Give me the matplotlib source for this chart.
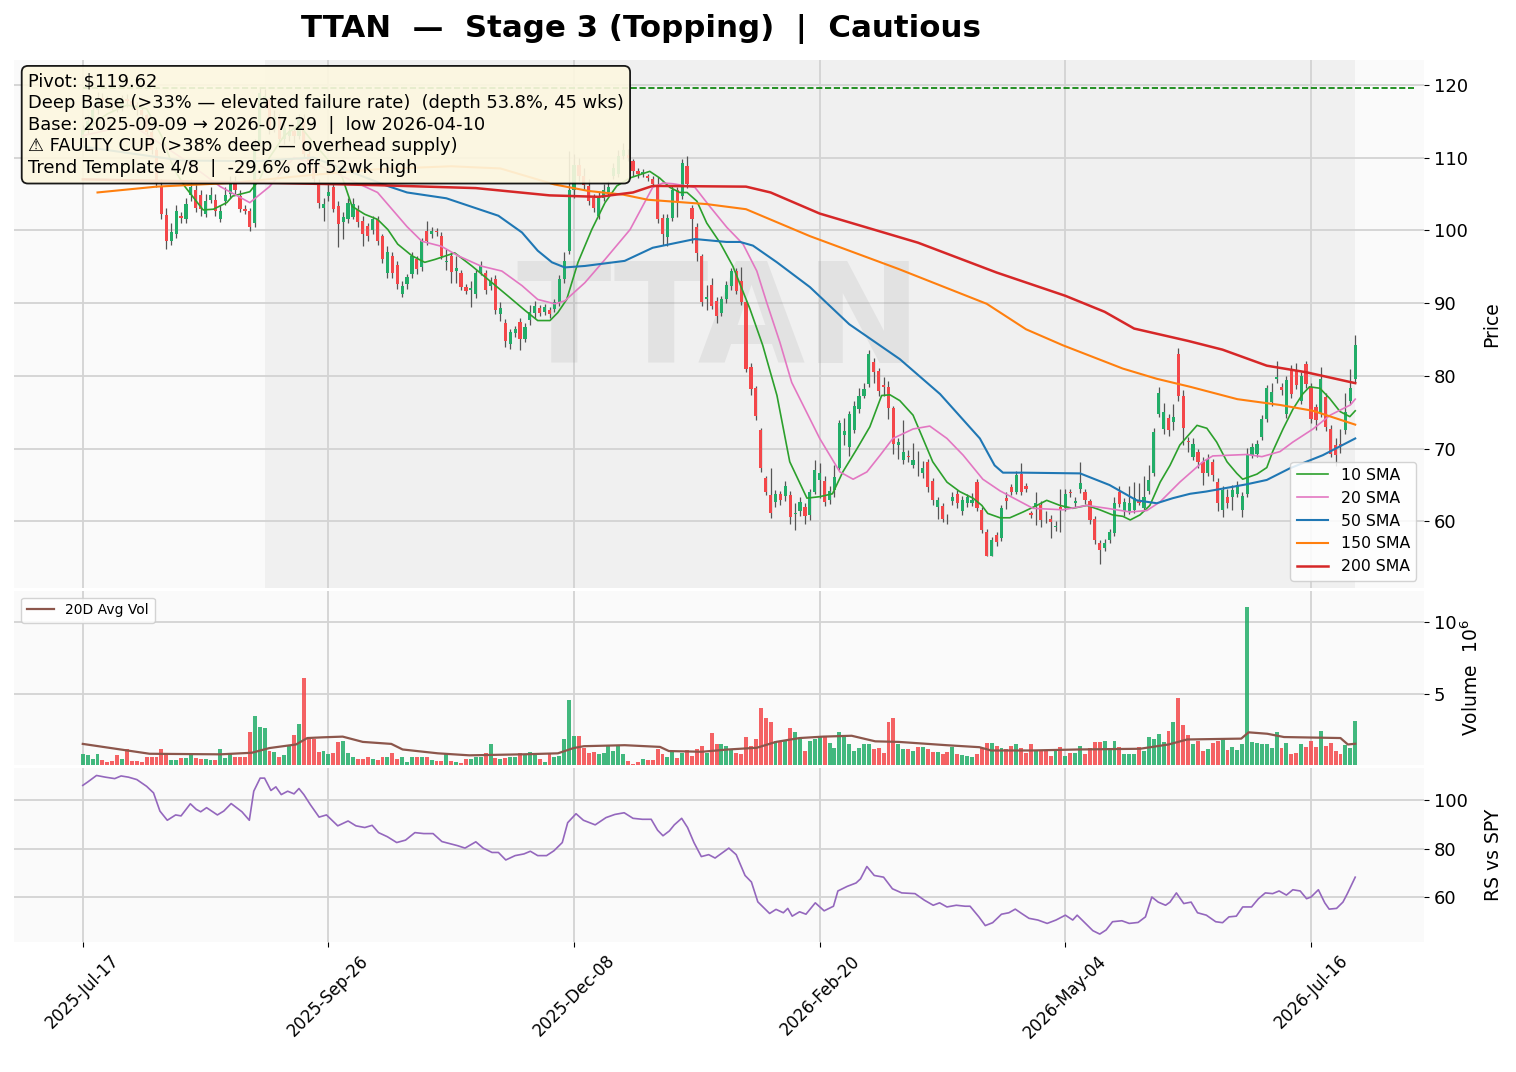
import matplotlib
matplotlib.use('Agg')
import matplotlib.pyplot as plt
import numpy as np

ticker = 'TTAN'
pivot = 119.62
base_start = 37
base_end = 259

# OHLC per bar
opens = [112.5,113.8,115.0,116.5,118.2,117.8,117.5,117.2,116.8,118.0,
         117.8,117.2,116.5,115.8,113.5,111.0,106.1,102.1,98.5,99.5,
         102.0,101.6,104.8,105.6,104.8,102.2,104.2,104.2,101.6,104.0,
         105.0,106.5,104.7,102.9,102.6,101.0,112.0,117.5,118.0,114.0,
         115.5,112.5,113.0,113.6,113.0,115.3,110.5,108.5,106.3,103.0,
         104.7,105.9,103.3,101.1,101.6,101.8,102.9,101.3,100.6,100.1,
         101.5,99.2,94.2,96.5,95.3,91.2,92.6,94.0,96.0,94.9,
         99.9,99.5,99.9,99.2,95.6,96.5,94.4,94.1,92.2,91.8,
         91.2,94.3,94.2,92.3,93.3,88.5,87.3,84.4,85.9,87.4,
         85.1,87.7,88.6,89.3,88.8,89.0,89.2,90.0,93.3,97.2,
         105.5,109.0,107.5,106.1,104.5,102.0,104.5,105.2,107.4,107.7,
         110.2,110.4,109.5,108.2,107.7,107.4,107.1,106.1,101.7,99.1,
         101.7,105.6,104.7,108.8,103.1,100.5,96.5,90.5,92.5,90.3,
         88.7,90.5,92.3,94.4,93.1,90.1,81.2,78.3,72.5,65.9,
         63.6,62.7,63.7,63.5,63.6,61.0,61.4,62.0,60.9,64.1,
         65.7,65.5,62.9,64.3,67.4,71.9,70.2,72.6,75.4,77.3,
         78.9,81.9,80.7,78.7,78.5,75.6,70.5,68.5,69.0,67.8,
         67.95,66.7,68.2,65.6,62.0,62.1,60.65,62.8,63.8,61.4,
         62.6,62.5,65.4,61.6,58.6,55.3,58.1,57.7,63.2,64.7,
         64.1,66.5,64.9,61.1,62.0,62.2,60.65,60.4,59.2,62.0,
         61.9,64.05,62.5,64.4,64.0,62.8,60.4,57.1,56.4,57.4,
         58.4,64.0,61.4,61.4,61.6,62.9,61.8,64.2,66.6,74.8,
         72.7,74.2,73.6,83.0,77.3,71.1,68.9,69.6,68.2,66.6,
         68.2,65.4,61.6,63.4,63.4,63.8,61.6,63.8,69.1,69.3,
         71.6,74.1,76.4,79.6,78.5,74.8,81.0,80.7,76.6,81.6,
         78.5,75.7,74.8,77.1,72.7,70.5,70.7,72.5,76.6,79.6]
highs = [114.5,115.8,117.2,119.0,118.8,118.4,118.0,117.9,118.6,118.7,
         118.2,117.6,117.0,116.0,114.0,111.5,107.0,103.0,101.0,103.5,
         102.5,104.5,107.0,106.5,105.5,105.0,106.0,105.0,103.5,106.0,
         107.5,107.5,105.5,103.5,103.0,112.5,119.62,119.4,118.3,116.5,
         116.0,114.8,114.5,114.2,116.0,116.0,111.2,109.3,107.0,104.5,
         106.5,106.5,104.0,102.5,104.5,104.5,103.5,102.0,101.0,102.0,
         102.0,99.5,97.8,97.0,95.8,93.0,94.0,97.0,96.5,99.0,
         101.3,100.5,100.3,99.8,97.5,97.0,96.5,94.5,92.6,93.0,
         94.6,95.8,94.6,93.6,93.8,90.2,87.8,86.5,86.8,88.0,
         87.2,89.8,90.3,89.8,89.9,89.5,90.6,93.8,97.0,110.9,
         110.5,110.0,108.5,107.0,105.0,105.2,106.3,106.8,109.3,111.0,
         112.0,111.2,109.8,108.6,108.4,107.8,107.5,107.3,102.3,102.2,
         106.2,106.0,109.8,110.2,103.5,101.0,96.8,92.5,93.5,90.8,
         91.0,93.0,94.8,94.8,94.9,90.4,81.7,78.6,72.8,66.2,
         67.4,64.3,64.2,65.6,64.2,62.5,63.3,62.6,64.5,68.5,
         68.0,66.3,64.8,67.7,73.9,74.2,75.2,76.6,78.4,79.0,
         83.5,82.4,81.1,79.9,79.3,75.9,71.4,74.0,69.8,70.8,
         69.7,68.3,68.6,66.0,63.4,62.5,61.0,64.0,64.3,63.5,
         63.8,63.9,65.8,62.0,59.0,57.8,58.5,62.3,64.0,65.2,
         66.9,68.0,65.3,61.5,64.0,62.8,61.4,60.9,60.0,64.4,
         64.4,64.4,63.3,68.1,64.4,63.1,60.8,57.5,57.6,59.0,
         63.4,64.8,63.2,64.8,65.4,65.3,66.2,67.7,72.8,78.5,
         76.3,74.8,76.2,83.8,78.0,71.6,71.4,70.0,68.8,69.2,
         68.6,66.0,64.8,64.5,65.0,65.6,64.0,70.1,70.8,71.2,
         74.6,78.8,79.0,82.1,79.0,80.0,81.5,81.8,80.6,82.0,
         79.0,76.1,81.2,77.6,73.2,71.4,72.7,77.6,81.0,85.6]
lows = [112.0,113.2,114.6,116.0,117.0,116.8,116.5,116.2,116.4,117.0,
        116.6,115.8,115.2,113.0,110.5,106.0,101.5,97.4,98.0,99.0,
        101.0,101.0,104.0,102.5,102.0,101.8,103.8,102.0,101.2,103.5,
        104.5,104.8,102.5,102.2,99.9,100.5,111.5,116.8,113.2,113.5,
        112.0,111.8,112.3,112.0,112.5,110.0,107.8,106.5,103.0,101.3,
        104.0,102.5,97.7,98.8,101.0,101.5,100.5,97.9,98.5,99.5,
        98.0,95.5,93.5,93.5,92.0,90.8,92.0,93.5,94.0,94.4,
        98.0,99.0,99.2,96.0,94.5,92.8,92.8,91.8,91.2,89.4,
        90.7,93.8,91.3,91.8,88.5,87.5,84.0,83.7,85.4,83.6,
        84.6,87.0,88.0,88.2,88.3,88.0,88.8,89.6,92.8,96.8,
        104.5,106.8,105.5,103.5,102.5,101.5,104.0,104.8,107.0,107.3,
        109.8,109.5,107.5,107.2,107.3,106.8,106.0,101.0,98.0,97.8,
        101.3,101.8,104.3,105.8,98.3,95.8,89.6,89.0,89.2,87.2,
        88.2,90.0,91.8,91.2,89.8,80.5,77.4,74.0,66.8,63.6,
        60.5,62.0,62.3,62.8,59.7,58.8,60.8,59.6,60.2,63.7,
        63.2,62.1,62.4,63.3,67.0,70.5,69.0,72.2,74.9,76.9,
        78.5,79.0,77.3,77.3,74.1,69.3,68.6,67.9,68.1,67.3,
        66.2,66.0,64.1,62.2,60.3,59.9,59.7,62.2,61.9,60.9,
        62.0,62.1,61.4,58.4,55.26,55.27,56.6,57.3,61.7,63.6,
        63.7,63.6,64.0,60.5,59.5,59.3,59.8,57.7,58.7,58.5,
        61.4,63.4,62.0,63.9,62.4,59.7,56.9,54.1,55.9,57.0,
        58.0,62.0,60.8,61.0,61.2,62.2,61.4,63.8,66.2,74.3,
        72.0,71.8,72.6,76.5,70.5,69.5,68.5,67.4,65.0,66.2,
        65.6,61.4,60.6,61.8,61.6,63.3,60.6,63.4,68.7,68.8,
        71.2,73.6,75.9,79.0,77.4,74.2,77.0,78.2,76.1,78.4,
        73.5,72.5,74.3,72.4,68.8,67.6,69.4,72.0,76.1,79.0]
closes = [113.8,115.0,116.5,118.2,117.8,117.5,117.2,116.8,118.0,117.8,
          117.2,116.5,115.8,113.5,111.0,106.5,102.2,98.5,99.7,102.6,
          101.7,103.6,106.0,103.1,102.9,104.0,104.9,102.6,102.6,104.9,
          106.5,105.5,102.9,102.7,100.4,111.5,118.8,118.5,114.0,115.5,
          112.5,114.0,113.6,112.9,115.3,110.5,108.5,107.0,103.8,103.6,
          105.2,102.9,100.8,101.8,103.8,103.6,101.1,99.5,99.2,101.5,
          98.5,96.0,97.0,94.2,92.6,92.4,93.6,96.5,94.7,98.5,
          98.5,99.9,99.7,96.5,95.8,94.3,94.8,92.2,91.7,92.05,
          94.2,95.1,91.8,93.1,89.0,89.3,84.8,86.0,86.4,85.1,
          86.7,88.8,89.6,88.7,89.4,88.5,90.1,93.3,95.8,105.6,
          109.0,107.5,106.2,104.0,103.1,104.7,105.6,105.9,108.6,110.2,
          111.0,110.0,108.1,107.7,108.0,107.2,106.4,101.5,99.5,101.7,
          105.6,104.0,109.3,106.3,101.5,96.9,90.1,90.8,89.6,88.2,
          90.5,92.5,94.4,91.7,90.1,81.0,78.2,74.5,67.3,64.1,
          61.1,63.7,62.9,64.8,60.6,61.2,62.7,60.8,64.1,67.0,
          66.6,62.7,64.2,66.1,73.5,72.4,74.7,75.8,77.3,78.2,
          83.0,80.6,77.9,78.5,75.6,70.7,70.9,69.6,68.8,68.5,
          67.85,67.3,64.7,62.9,62.9,60.3,60.55,63.4,62.5,62.9,
          63.3,63.0,61.9,58.8,55.3,57.4,57.2,61.9,62.8,64.1,
          66.4,64.0,64.5,60.9,62.6,60.2,60.55,59.9,59.4,61.7,
          63.8,63.95,62.8,65.3,62.9,60.2,57.4,56.1,57.1,58.5,
          62.5,62.4,62.7,62.6,63.2,62.6,63.3,65.7,72.3,77.7,
          75.0,72.5,74.3,77.3,72.8,70.9,70.7,68.2,66.6,68.6,
          66.4,62.5,64.3,62.5,64.3,65.0,63.5,69.3,70.2,70.7,
          74.1,78.3,77.8,79.8,78.0,79.4,77.5,78.7,80.0,78.9,
          74.1,73.9,79.6,73.0,69.3,69.1,70.4,75.0,78.3,84.2]
# volume, millions of shares
volume_m = [0.8,0.7,0.4,0.75,0.35,0.2,0.3,0.7,0.4,1.1,
            0.3,0.3,0.2,0.6,0.55,0.55,1.1,0.75,0.35,0.35,
            0.5,0.5,0.75,0.5,0.45,0.45,0.35,0.35,1.1,0.5,
            0.8,0.55,0.55,0.55,2.35,3.45,2.65,2.6,1.0,0.9,
            0.6,0.7,1.35,2.1,2.9,6.1,1.8,1.8,0.9,1.0,
            0.75,0.85,1.6,1.7,0.85,0.6,0.45,0.45,0.6,0.45,
            0.35,0.6,0.55,0.85,0.45,0.6,0.25,0.55,0.55,0.6,
            0.6,0.35,0.3,0.3,0.85,0.3,0.25,0.15,0.45,0.45,
            0.6,0.6,0.85,1.45,0.5,0.4,0.5,0.6,0.55,0.85,
            0.7,0.95,0.85,0.45,0.2,0.75,0.6,0.65,1.85,4.55,
            2.05,2.05,1.2,0.85,0.95,0.75,0.85,1.35,1.0,1.35,
            0.75,0.3,0.1,0.25,0.45,0.35,0.35,1.1,0.75,0.6,
            1.0,0.5,0.85,1.05,0.65,1.15,1.33,0.83,2.25,1.45,
            1.5,1.33,1.03,0.83,0.76,2.0,1.33,1.83,3.97,3.28,
            3.05,1.67,1.63,1.67,2.6,2.3,1.8,1.0,1.72,1.8,
            2.0,2.0,1.56,1.22,2.3,2.1,1.5,1.0,1.22,1.5,
            1.5,1.15,1.22,0.87,3.05,3.28,1.5,1.15,1.15,1.0,
            1.26,1.26,1.1,0.94,0.94,0.76,0.94,1.26,0.76,0.71,
            0.64,0.57,0.8,1.22,1.56,1.56,1.33,1.22,1.1,1.33,
            1.45,1.22,0.83,1.5,1.0,1.0,1.03,0.64,1.0,1.26,
            0.64,0.87,0.87,1.33,0.8,1.17,1.63,1.63,1.67,1.22,
            1.67,1.26,0.8,0.8,0.76,1.26,1.0,2.0,1.86,2.18,
            1.63,2.36,3.05,4.7,2.82,2.13,1.45,1.67,1.0,1.1,
            1.56,1.67,1.8,1.05,1.26,1.03,1.45,11.1,1.63,1.56,
            1.45,1.45,1.22,2.3,1.22,1.56,0.76,0.83,1.5,1.28,
            1.67,1.26,2.36,1.33,1.56,1.0,0.76,1.4,1.17,3.12]

# 20-day average volume (bar index, millions)
avgvol_x = [0,13.6,28,34.4,38,43.4,45.7,48.8,52.9,57,62.8,65.1,72.3,78.7,89.5,96.7,
            99.9,102,110.3,117.5,119.3,126,131.4,137.2,141.1,145.9,150.7,156.5,161.3,
            166.1,175.8,182.5,184.9,193.1,202.7,215.2,221,224.8,235.8,237.3,241.1,
            244.5,256,257.5,259]
avgvol_y = [1.49,0.8,0.76,0.87,1.2,1.45,1.9,1.95,2.0,1.63,1.49,1.1,0.83,0.69,0.76,0.83,
            1.2,1.33,1.4,1.28,0.99,0.94,1.1,1.22,1.63,1.9,2.0,2.06,1.67,
            1.63,1.4,1.26,1.03,1.03,1.1,1.15,1.45,1.8,1.86,2.3,2.2,
            1.97,1.9,1.45,1.5]

# moving averages (bar index, price)
sma10_x = [0,5,9,13,16,18.5,20.8,24.5,26.6,29.3,30.5,34,36,38,41,44,47,52.7,54.8,57.4,60,
           62.1,64.1,67,69.6,71.7,75.7,79.2,82.4,86.5,90,92.6,95.1,96.7,98.5,100.8,103.6,
           106.3,108.7,111.4,115.4,117.4,119.5,121.5,123,125,127,129.7,132.3,135.8,138.4,
           141.3,143.9,147.4,150,152.6,154.7,157.6,160.2,162.6,164.3,166.3,169,171,173,
           175.9,178.5,181.2,183,184.2,186.7,188.7,191.4,194.2,196.2,198.9,201.5,204.4,
           207,209.6,211.7,213.2,215.2,217.2,219.3,221.3,223.3,226.8,228.8,230.8,232.9,
           234.9,236.1,239,241,242.2,244.3,246.3,248.3,249.7,251.8,253.8,255.9,257.9,259]
sma10_y = [113.5,116,117.2,116.7,113,108.5,106,102.8,102.9,103.8,104.7,105.3,107,110,113,114.5,
           112,107.5,103.3,102.2,101.5,100.1,98.1,96.5,95.6,96,96.9,95.1,93.3,91,89,87.6,
           87.6,88.7,90.5,95.6,100.1,103.8,106.1,107.2,108.1,107.2,105.9,105.2,105.2,104,
           101,98.3,95.1,89.2,84.2,77.3,68.2,63.2,63.4,63.8,66.8,70,73,77.3,77.4,76.6,74.6,
           71.4,68.2,65.4,64.1,63.2,62.2,61.1,60.5,60.5,61.3,62.2,62.9,62.2,61.8,62.2,61.6,
           60.9,60.7,60.2,60.9,62.2,65.4,67.7,70.5,73.2,72.8,70.9,68.2,66.6,65.8,66.5,67.4,
           69.6,72.7,75.4,77.5,78.5,78.3,76.9,75.1,74.4,75.2]
sma20_x = [0,10,20,28,34,38,43,48,51,60,66,69,73,76.4,81,85.3,89.4,92.6,96.1,98.1,102.2,
           106.3,111.4,116,118.1,120.1,124.6,127.6,131.1,134.4,137.2,139.2,141.9,144.3,
           148,150,154.1,156.8,159.6,162.3,164.9,169,172.4,175.9,179.2,183.2,186.7,
           193.4,199.5,204.4,208.5,213.2,216.6,219.3,223.3,228,230,237,240,243.7,246.3,
           250.4,253.9,258,259]
sma20_y = [113,114.5,110,106,103.8,106,110,109,108,105.2,100.5,98.5,97.8,96.5,95.1,94.4,
           92.4,90.5,89.9,90.3,92.8,96,100.1,105.9,106.5,106.4,105.9,103.3,100.4,98.1,94.4,
           90.1,84.6,79.1,74.1,71.4,66.8,65.8,66.8,69.1,71.4,72.7,73.1,71.4,69.1,65.8,64.2,
           61.8,61.6,62.2,61.8,61.3,61.5,62.7,65.4,68.2,69,69.2,68.9,69.6,70.9,
           72.7,74.6,76,76.8]
sma50_x = [0,20,35,47,62,66,74,84.6,89.4,92.6,95.5,98.1,102.2,110.3,116,121,124.6,131,
           133.8,136.4,141.3,148,156,166.3,174.5,182.6,185.6,187.3,191.4,203,209,214.5,
           218.6,221.9,225.4,228.6,236.9,241,245.7,252.4,259]
sma50_y = [111.5,109.6,109.5,110,106.1,105.2,104.4,102,99.7,97.2,95.6,94.9,95.1,95.8,97.6,
           98.3,98.8,98.4,98.4,97.9,95.6,92.2,87.1,82.3,77.5,71.4,67.7,66.7,66.7,66.6,65,
           62.9,62.5,63.2,63.8,64.1,65.1,65.7,67.3,69.1,71.4]
sma150_x = [3,15,30,45,60,75,85,96,103,110,115,127,135,148,166,184,192,199.5,211.7,218.6,
            225.4,235,243.7,250.4,259]
sma150_y = [105.2,106,106.5,107.5,108.4,108.8,108.5,106.3,105.4,104.9,104.2,103.6,102.9,
            99.2,94.7,89.9,86.4,84.2,81,79.6,78.5,76.8,76,75.2,73.3]
sma200_x = [0,40,60,80,95,105,112,116,135,140,150,160,170,186,200,208,214,225,232,241,
            249,259]
sma200_y = [107,106.5,106.2,105.8,104.8,104.6,105.2,106.1,106,105.2,102.3,100.3,98.3,94.2,
            91,88.8,86.5,84.8,83.6,81.4,80.5,79]

# relative strength vs SPY (bar index, value)
rs_x = [0,1,2.8,4.6,6.5,7.8,9.3,11,13,14.4,15.7,17.2,18.9,20,21.9,23.1,24,25.2,27.4,28.7,
        30.2,32.4,33.9,34.8,36.1,37,38.3,39.3,40.4,41.7,43,44,45,46.3,48.1,49.6,51.9,54,
        55.6,57.4,58.9,60.2,62,63.9,65.7,67.6,69.4,71.3,73.1,75,76.3,77.8,80,81.5,83.3,
        84.6,86.1,88,89.8,91.1,92.6,94.4,95.9,97.6,98.7,100.4,101.9,104.3,106.5,108.3,
        110.2,112,113.9,115.7,117,118.1,119.4,120.4,121.9,123.1,124.4,125.9,127.4,128.7,
        130,131.5,133,134.8,136.1,137.4,139.8,141.1,142.6,143.5,144.4,145.9,147.2,149.1,
        150.9,152.8,153.7,155.6,157.4,158.3,159.6,161.1,163,164.8,166.7,169.4,171.3,
        173.1,174.4,175.9,177.8,179.6,180.6,182.4,183.7,185.2,187,188.5,189.8,191.1,
        192.6,194.4,196.3,198.1,200,201.5,202.4,204.1,205.6,207,208.3,209.6,211.5,213,
        214.8,216.3,217.6,218.9,220.4,221.3,222.6,224.1,225.6,226.9,228.7,230.6,232,
        233.3,234.8,236.1,237.9,239.3,240.7,242.2,243.5,245,246.3,247.8,249.1,250,
        251.5,252.8,253.7,255.2,256.5,257.4,259]
rs_y = [106.1,107.5,110.2,109.5,108.9,110,109.5,108.5,105.7,103,95.5,91.7,93.9,93.5,98.5,
        96.2,95.2,96.9,93.9,95.5,98.6,95.2,91.7,103.7,109.1,109.1,104,105.5,102.3,103.7,
        102.6,104.8,102.3,98.2,93,93.9,89.4,91.4,89.4,88.7,89.6,86.6,84.9,82.5,83.5,86.6,
        86.2,86.2,82.9,81.9,81.2,80.2,82.8,80.2,78.4,78.4,75.3,77.1,77.8,78.9,77.1,77.1,
        79.1,82.5,90.7,94.4,91.7,89.8,92.8,94.1,94.8,92.5,92.1,92.1,87.6,85.3,87.3,89.8,
        92.5,88.7,82.5,76.7,77.5,76.1,78,80.2,77.5,68.9,66.2,58,53.2,54.9,53.5,55.3,52.1,
        53.9,52.9,57.6,54.3,56.2,62.5,64.4,65.8,67.5,72.6,68.9,68.2,63.4,61.7,61.4,58.7,
        56.6,57.6,55.9,56.6,56.2,56.2,51.8,48.2,49.4,52.9,53.5,55,53.2,51.2,50.5,49.1,
        50.5,52.5,50.5,52.5,49.1,46.1,44.7,46.4,49.8,50.2,49.1,49.5,51.8,60,57.9,56.6,
        57.9,61.7,57.3,57.9,53.5,52.5,49.8,49.4,51.8,52.1,55.9,55.9,59.3,61.7,61.4,62.5,
        60.8,63,62.5,59.3,60,63,57.6,55,55.3,57.9,61.4,68.2]

tick_pos = [0, 50, 100, 150, 200, 250]
tick_labels = ['2025-Jul-17', '2025-Sep-26', '2025-Dec-08', '2026-Feb-20', '2026-May-04', '2026-Jul-16']

info_lines = [
    'Pivot: \\$119.62',
    'Deep Base (>33% — elevated failure rate)  (depth 53.8%, 45 wks)',
    'Base: 2025-09-09 → 2026-07-29  |  low 2026-04-10',
    '⚠ FAULTY CUP (>38% deep — overhead supply)',
    'Trend Template 4/8  |  -29.6% off 52wk high',
]

up_color = '#22ad68'
down_color = '#f4474a'
panel_bg = '#fafafa'
grid_color = '#d3d3d3'

o = np.array(opens)
h = np.array(highs)
l = np.array(lows)
c = np.array(closes)
x = np.arange(len(c))
colors = np.where(c >= o, up_color, down_color)

fig = plt.figure(figsize=(15.16, 10.72), dpi=100)
gs = fig.add_gridspec(3, 1, height_ratios=[530, 175, 175], hspace=0.008,
                      left=14/1516, right=1424/1516, top=1-60/1072, bottom=1-942/1072)
ax = fig.add_subplot(gs[0])
axv = fig.add_subplot(gs[1], sharex=ax)
axr = fig.add_subplot(gs[2], sharex=ax)

for a in (ax, axv, axr):
    a.set_facecolor(panel_bg)
    for s in a.spines.values():
        s.set_visible(False)
    a.grid(True, color=grid_color, linewidth=1.3)
    a.set_axisbelow(True)
    a.yaxis.tick_right()
    a.yaxis.set_label_position('right')
    a.tick_params(axis='y', labelsize=13)

# price panel
ax.axvspan(base_start, base_end, color='gray', alpha=0.08, lw=0, zorder=0)
ax.text(0.5, 0.5, ticker, transform=ax.transAxes, fontsize=100, fontweight='bold',
        color='gray', alpha=0.12, ha='center', va='center', zorder=0.6)
ax.vlines(x, l, h, color='#555555', linewidth=0.9, zorder=2)
ax.bar(x, np.abs(c - o), bottom=np.minimum(o, c), width=0.65, color=colors, zorder=3)
ax.plot(sma10_x, sma10_y, color='tab:green', lw=1.2, label='10 SMA', zorder=4)
ax.plot(sma20_x, sma20_y, color='tab:pink', lw=1.2, label='20 SMA', zorder=4)
ax.plot(sma50_x, sma50_y, color='tab:blue', lw=1.5, label='50 SMA', zorder=4)
ax.plot(sma150_x, sma150_y, color='tab:orange', lw=1.5, label='150 SMA', zorder=4)
ax.plot(sma200_x, sma200_y, color='tab:red', lw=1.8, label='200 SMA', zorder=4)
ax.hlines(pivot, 0, 271, colors='green', linestyles='--', lw=1.2, zorder=4)
ax.set_ylim(50.8, 123.4)
ax.legend(loc='lower right', fontsize=11.3, framealpha=0.85)
ax.set_ylabel('Price', fontsize=13.5, labelpad=10)
ax.text(0.0099, 0.977, '\n'.join(info_lines), transform=ax.transAxes, va='top', ha='left',
        fontsize=12.85, linespacing=1.27, zorder=10,
        bbox=dict(boxstyle='round,pad=0.35', facecolor='#fdf7e0', edgecolor='black',
                  linewidth=1.3, alpha=0.9))
ax.tick_params(axis='x', bottom=False, labelbottom=False)

# volume panel
axv.bar(x, volume_m, width=0.8, color=colors, alpha=0.85, zorder=2)
axv.plot(avgvol_x, avgvol_y, color='#8c564b', lw=1.6, label='20D Avg Vol', zorder=3)
axv.set_ylim(0, max(volume_m) * 1.1)
axv.set_yticks([5, 10])
axv.set_ylabel('Volume  $10^6$', fontsize=13.5, labelpad=3)
axv.legend(loc='upper left', fontsize=10, framealpha=0.85)
axv.tick_params(axis='x', bottom=False, labelbottom=False)

# RS panel
axr.plot(rs_x, rs_y, color='tab:purple', lw=1.2)
axr.set_yticks([60, 80, 100])
axr.set_ylabel('RS vs SPY', fontsize=13.5, labelpad=12)
axr.set_xticks(tick_pos)
axr.set_xticklabels(tick_labels, rotation=45, fontsize=12)
axr.set_xlim(-14, 273)

fig.text(0.423, 0.973, 'TTAN  —  Stage 3 (Topping)  |  Cautious', ha='center', va='center',
         fontsize=22.2, fontweight='bold')

fig.savefig('out.png', dpi=100)
